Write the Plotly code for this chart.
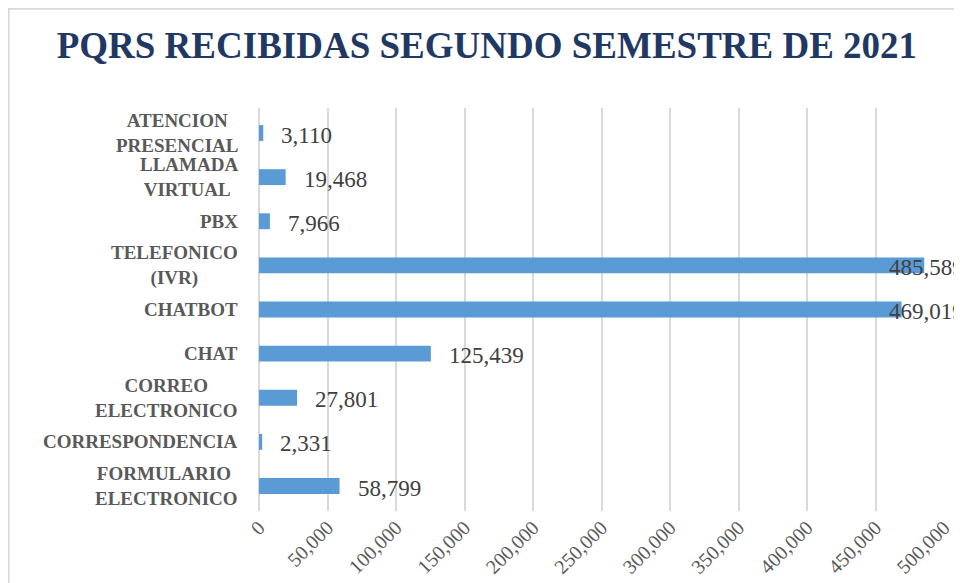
import plotly.graph_objects as go

categories = ["ATENCION<br>PRESENCIAL", "LLAMADA<br>VIRTUAL ", "PBX", "TELEFONICO<br>(IVR)", "CHATBOT",
              "CHAT", "CORREO<br>ELECTRONICO", "CORRESPONDENCIA", "FORMULARIO <br>ELECTRONICO"]
values = [3110, 19468, 7966, 485589, 469019, 125439, 27801, 2331, 58799]
tick_vals = [0, 50000, 100000, 150000, 200000, 250000, 300000, 350000, 400000, 450000, 500000]
tick_text = ["0", "50,000", "100,000", "150,000", "200,000", "250,000", "300,000", "350,000", "400,000", "450,000", "500,000"]
title = "PQRS RECIBIDAS SEGUNDO SEMESTRE DE 2021"

SERIF = "Liberation Serif"
keys = [f"c{i}" for i in range(len(categories))]

fig = go.Figure(go.Bar(
    x=values, y=keys, orientation="h",
    marker=dict(color="#5B9BD5", line=dict(width=0)),
    hoverinfo="x",
))

annotations = []
for k, cat, v in zip(keys, categories, values):
    annotations.append(dict(
        x=0, xref="paper", y=k, yref="y", text=f"<b>{cat}</b>", showarrow=False,
        xanchor="right", yanchor="middle", align="center", xshift=-19,
        font=dict(family=SERIF, size=19, color="#595959"),
    ))
    annotations.append(dict(
        x=min(v, 447000), xref="x", y=k, yref="y", text=f"{v:,}", showarrow=False,
        xanchor="left", yanchor="middle", xshift=16, yshift=-2,
        font=dict(family=SERIF, size=23, color="#404040"),
    ))

fig.update_layout(
    width=954, height=575,
    margin=dict(l=251, r=18, t=100, b=72, autoexpand=False),
    paper_bgcolor="white", plot_bgcolor="white",
    showlegend=False,
    bargap=0.64,
    font=dict(family=SERIF),
    title=dict(text=f"<b>{title}</b>", x=0.502, xanchor="center", y=0.9357, yanchor="middle",
               font=dict(family=SERIF, size=37, color="#1F3864")),
    xaxis=dict(range=[0, 500000], tickvals=tick_vals, ticktext=tick_text, tickangle=-45,
               showgrid=True, gridcolor="#D9D9D9", gridwidth=1.5, zeroline=True,
               zerolinecolor="#D9D9D9", zerolinewidth=1.5, showline=False, ticks="",
               tickfont=dict(family=SERIF, size=20, color="#595959"), automargin=False),
    yaxis=dict(autorange="reversed", showticklabels=False, showgrid=False, zeroline=False,
               ticks="", showline=False),
    annotations=annotations,
    shapes=[dict(type="rect", xref="paper", yref="paper", x0=-0.3655, x1=1.2, y0=-0.5, y1=1.246,
                 line=dict(color="#D9D9D9", width=2), layer="below")],
)

fig.write_html("out.html")
